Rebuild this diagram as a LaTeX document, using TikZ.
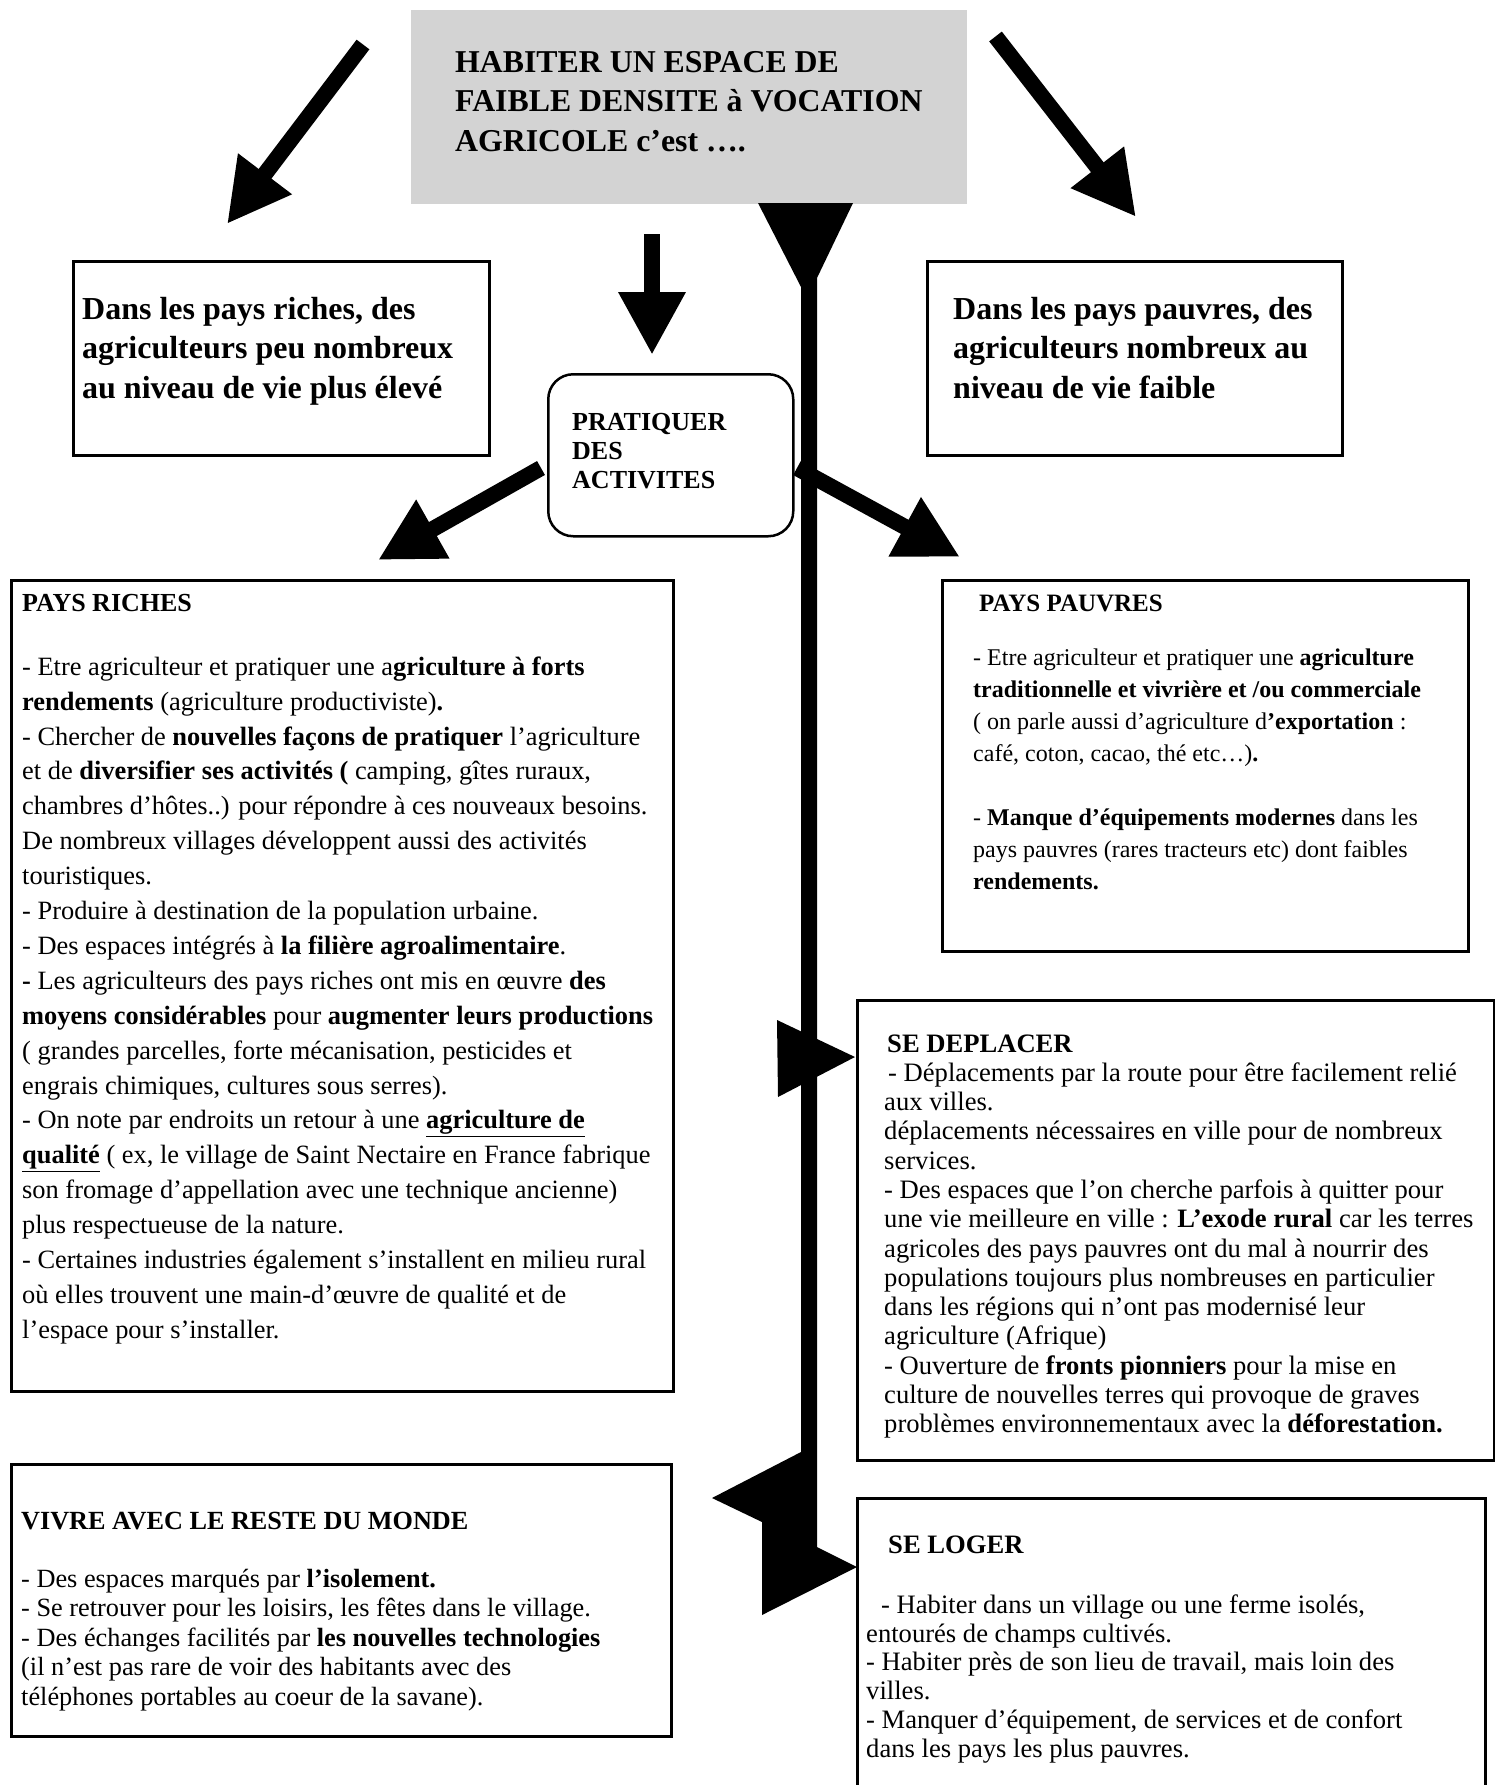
\documentclass[tikz,border=0pt]{standalone}
\usepackage{fontspec}
\setmainfont{Liberation Serif}
\usetikzlibrary{arrows.meta}

\definecolor{gris}{HTML}{D3D3D3}
\newcommand{\haut}{\rule{0pt}{25pt}}

\begin{document}
\begin{tikzpicture}[x=1pt, y=-1pt,
        cadre/.style=
            {
                rectangle,
                draw = black,
                line width = 2.5pt,
                anchor = north west,
                inner sep = 0pt
            },
        texte/.style=
            {
                anchor = north west,
                inner sep = 0pt,
                align = left
            },
        fleche/.style=
            {
                line width = 16pt,
                -{Triangle[length=63pt, width=63pt]}
            }
    ]

    \useasboundingbox (0,0) rectangle (1495,1785);
    \clip (0,0) rectangle (1495,1785);

    % title
    \draw (410,9) node[cadre, draw=none, fill=gris, minimum width=556pt, minimum height=194pt] (titre) {};
    \draw (455,47) node[texte, font=\fontsize{31.8}{39.5}\selectfont\bfseries] (titreTxt)
        {\haut HABITER UN ESPACE DE\\FAIBLE DENSITE à VOCATION\\AGRICOLE c’est ….};

    % spine
    \fill (758,203) -- (853,203) -- (817,278) -- (817,1547) -- (857,1567) -- (762,1615)
        -- (762,1522) -- (712,1498) -- (801,1452) -- (801,287) -- cycle;
    \fill (777,1020) -- (855,1057) -- (778,1097) -- cycle;

    % arrows
    \coordinate (gA) at (363,44.5);
    \coordinate (gB) at (227,224);
    \coordinate (dA) at (995.5,36.5);
    \coordinate (dB) at (1136,217);
    \coordinate (mA) at (652,234);
    \coordinate (mB) at (652,355);
    \coordinate (pgA) at (541,468);
    \coordinate (pgB) at (378,560);
    \coordinate (pdA) at (797,468);
    \coordinate (pdB) at (960,557);
    \draw[fleche] (gA) -- (gB);
    \draw[fleche] (dA) -- (dB);
    \draw[fleche] (mA) -- (mB);
    \draw[fleche] (pgA) -- (pgB);
    \draw[fleche] (pdA) -- (pdB);

    % top boxes
    \draw (72,260) node[cadre, minimum width=416pt, minimum height=194pt] (richHaut) {};
    \draw (82,294) node[texte, font=\fontsize{32}{39.5}\selectfont\bfseries] (richHautTxt)
        {\haut Dans les pays riches, des\\agriculteurs peu nombreux\\au niveau de vie plus élevé};

    \draw (926,260) node[cadre, minimum width=415pt, minimum height=194pt] (pauvHaut) {};
    \draw (953,294) node[texte, font=\fontsize{32}{39.5}\selectfont\bfseries] (pauvHautTxt)
        {\haut Dans les pays pauvres, des\\agriculteurs nombreux au\\niveau de vie faible};

    \draw (547,373) node[cadre, rounded corners=25pt, minimum width=245pt, minimum height=162pt] (pratiq) {};
    \draw (572,405) node[texte, font=\fontsize{26}{29}\selectfont\bfseries] (pratiqTxt)
        {\haut PRATIQUER\\DES\\ACTIVITES};

    % pays riches
    \draw (10,579) node[cadre, minimum width=662pt, minimum height=811pt] (riches) {};
    \draw (22,586) node[texte, font=\fontsize{26}{35}\selectfont\bfseries] (richesTitre) {\haut PAYS RICHES};
    \draw (22,650) node[texte, font=\fontsize{26.4}{34.9}\selectfont] (richesTxt)
        {\haut - Etre agriculteur et pratiquer une a\textbf{griculture à forts}\\
        \textbf{rendements} (agriculture productiviste)\textbf{.}\\
        - Chercher de \textbf{nouvelles façons de pratiquer} l’agriculture\\
        et de \textbf{diversifier ses activités (} camping, gîtes ruraux,\\
        chambres d’hôtes..) pour répondre à ces nouveaux besoins.\\
        De nombreux villages développent aussi des activités\\
        touristiques.\\
        - Produire à destination de la population urbaine.\\
        - Des espaces intégrés à \textbf{la filière agroalimentaire}.\\
        \textbf{-} Les agriculteurs des pays riches ont mis en œuvre \textbf{des}\\
        \textbf{moyens considérables} pour \textbf{augmenter leurs productions}\\
        ( grandes parcelles, forte mécanisation, pesticides et\\
        engrais chimiques, cultures sous serres).\\
        - On note par endroits un retour à une \underline{\textbf{agriculture de}}\\
        \underline{\textbf{qualité}} ( ex, le village de Saint Nectaire en France fabrique\\
        son fromage d’appellation avec une technique ancienne)\\
        plus respectueuse de la nature.\\
        - Certaines industries également s’installent en milieu rural\\
        où elles trouvent une main-d’œuvre de qualité et de\\
        l’espace pour s’installer.};

    % pays pauvres
    \draw (941,579) node[cadre, minimum width=526pt, minimum height=371pt] (pauvres) {};
    \draw (979,586) node[texte, font=\fontsize{25}{35}\selectfont\bfseries] (pauvresTitre) {\haut PAYS PAUVRES};
    \draw (973,640) node[texte, font=\fontsize{24}{32}\selectfont] (pauvresTxt)
        {\haut - Etre agriculteur et pratiquer une \textbf{agriculture}\\
        \textbf{traditionnelle et vivrière et /ou commerciale}\\
        ( on parle aussi d’agriculture d\textbf{’exportation} :\\
        café, coton, cacao, thé etc…)\textbf{.}\\[32pt]
        - \textbf{Manque d’équipements modernes} dans les\\
        pays pauvres (rares tracteurs etc) dont faibles\\
        \textbf{rendements.}};

    % se deplacer
    \draw (856,999) node[cadre, minimum width=637pt, minimum height=460pt] (deplacer) {};
    \draw (887,1027) node[texte, font=\fontsize{26.6}{29.3}\selectfont\bfseries] (deplacerTitre) {\haut SE DEPLACER};
    \draw (884,1056) node[texte, font=\fontsize{26.6}{29.3}\selectfont] (deplacerTxt)
        {\haut\hspace{4pt}- Déplacements par la route pour être facilement relié\\
        aux villes.\\
        déplacements nécessaires en ville pour de nombreux\\
        services.\\
        - Des espaces que l’on cherche parfois à quitter pour\\
        une vie meilleure en ville : \textbf{L’exode rural} car les terres\\
        agricoles des pays pauvres ont du mal à nourrir des\\
        populations toujours plus nombreuses en particulier\\
        dans les régions qui n’ont pas modernisé leur\\
        agriculture (Afrique)\\
        - Ouverture de \textbf{fronts pionniers} pour la mise en\\
        culture de nouvelles terres qui provoque de graves\\
        problèmes environnementaux avec la \textbf{déforestation.}};

    % vivre avec le reste du monde
    \draw (10,1463) node[cadre, minimum width=660pt, minimum height=272pt] (vivre) {};
    \draw (21,1504) node[texte, font=\fontsize{26.2}{29.5}\selectfont\bfseries] (vivreTitre) {\haut VIVRE AVEC LE RESTE DU MONDE};
    \draw (21,1562) node[texte, font=\fontsize{26.3}{29.5}\selectfont] (vivreTxt)
        {\haut - Des espaces marqués par \textbf{l’isolement.}\\
        - Se retrouver pour les loisirs, les fêtes dans le village.\\
        - Des échanges facilités par \textbf{les nouvelles technologies}\\
        (il n’est pas rare de voir des habitants avec des\\
        téléphones portables au coeur de la savane).};

    % se loger
    \draw (856,1497) node[cadre, minimum width=628pt, minimum height=320pt] (loger) {};
    \draw (888,1528) node[texte, font=\fontsize{26.6}{28.8}\selectfont\bfseries] (logerTitre) {\haut SE LOGER};
    \draw (866,1588) node[texte, font=\fontsize{26.6}{28.8}\selectfont] (logerTxt)
        {\haut\hspace{15pt}- Habiter dans un village ou une ferme isolés,\\
        entourés de champs cultivés.\\
        - Habiter près de son lieu de travail, mais loin des\\
        villes.\\
        - Manquer d’équipement, de services et de confort\\
        dans les pays les plus pauvres.};

\end{tikzpicture}
\end{document}
